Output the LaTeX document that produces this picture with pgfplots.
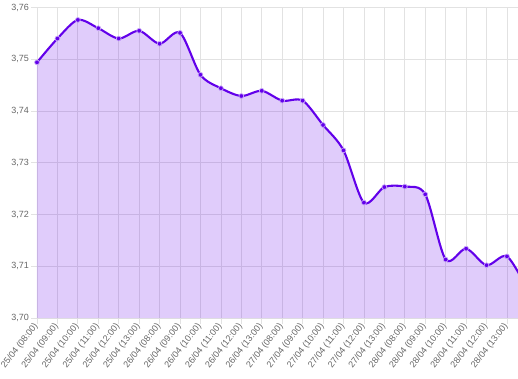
\documentclass[border=0pt]{standalone}
\usepackage{pgfplots}
\pgfplotsset{compat=1.18}
\usepackage{pgfplotstable}
\usepackage{fontspec}
\setmainfont{Liberation Sans}
\definecolor{lineC}{RGB}{98,0,234}
\definecolor{txt}{RGB}{102,102,102}
\definecolor{gridC}{RGB}{226,226,226}

\pgfplotstableread{
x y
0 3.7494
1 3.7540
2 3.7576
3 3.7560
4 3.7540
5 3.7555
6 3.7530
7 3.7551
8 3.7470
9 3.7444
10 3.7429
11 3.7439
12 3.7420
13 3.7420
14 3.7373
15 3.7324
16 3.7223
17 3.7253
18 3.7254
19 3.7239
20 3.7113
21 3.7134
22 3.7102
23 3.7119
24 3.7055
}\data

\begin{document}
\begin{tikzpicture}
\begin{axis}[name=ax, scale only axis, width=481pt, height=310.5pt,
  xmin=0, xmax=23.54, ymin=3.70, ymax=3.76,
  axis lines=left, axis line style={-, draw=gridC, line width=0.8pt},
  xtick={0,...,23},
  xticklabels={25/04 (08:00),25/04 (09:00),25/04 (10:00),25/04 (11:00),25/04 (12:00),25/04 (13:00),
    26/04 (08:00),26/04 (09:00),26/04 (10:00),26/04 (11:00),26/04 (12:00),26/04 (13:00),
    27/04 (08:00),27/04 (09:00),27/04 (10:00),27/04 (11:00),27/04 (12:00),27/04 (13:00),
    28/04 (08:00),28/04 (09:00),28/04 (10:00),28/04 (11:00),28/04 (12:00),28/04 (13:00)},
  ytick={3.70,3.71,3.72,3.73,3.74,3.75,3.76},
  grid=major, grid style={draw=gridC, line width=0.8pt},
  tick align=outside, major tick length=6pt, tick style={draw=gridC, line width=0.8pt},
  ticklabel style={font=\fontsize{9}{10}\selectfont, text=txt},
  /pgf/number format/assume math mode=true,
  y tick label style={/pgf/number format/fixed, /pgf/number format/fixed zerofill, /pgf/number format/precision=2, /pgf/number format/use comma, inner sep=2pt},
  x tick label style={rotate=52, anchor=east, inner sep=1pt},
  clip=true]
\addplot[draw=none, fill=lineC, fill opacity=0.2, smooth, tension=0.5] table {\data} \closedcycle;
\addplot[lineC, line width=2.1pt, smooth, tension=0.5] table {\data};
\addplot[only marks, mark=*, mark size=2.4pt, mark options={fill=lineC, draw=lineC!35, line width=0.7pt}, restrict x to domain=0:23] table {\data};
\end{axis}
\pgfresetboundingbox
\path (ax.south west) ++(-37pt,-60pt) rectangle ++(518pt,378pt);
\end{tikzpicture}
\end{document}
